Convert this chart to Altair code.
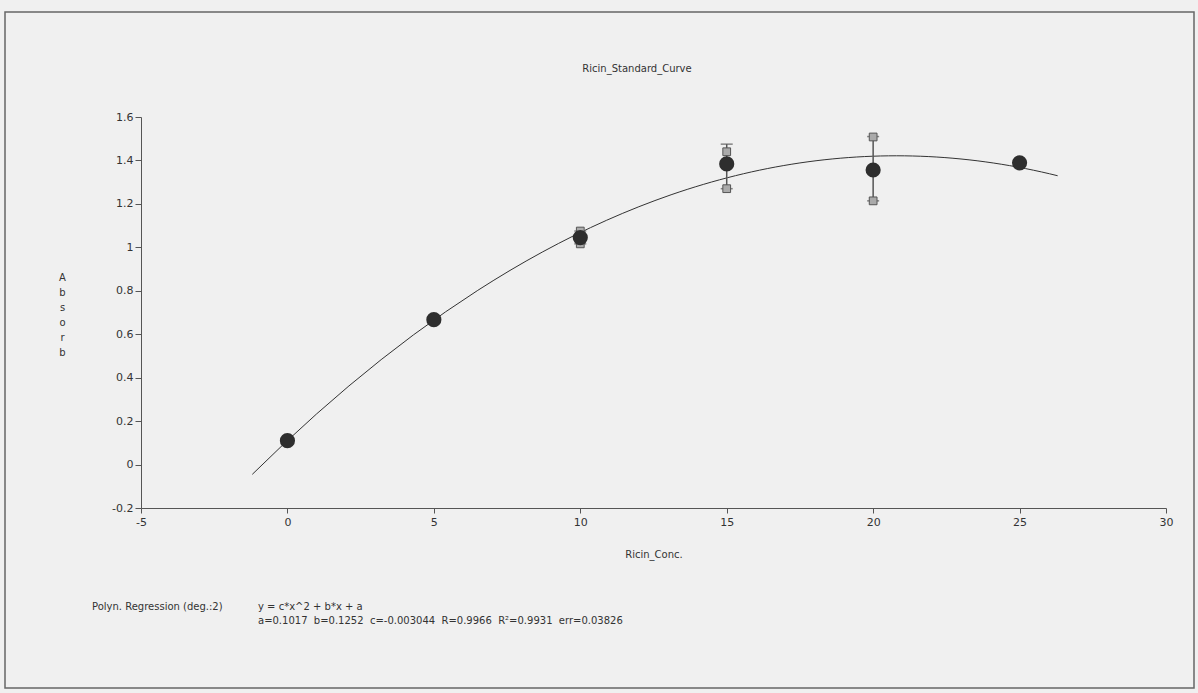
import altair as alt
import pandas as pd

conc = [0, 5, 10, 15, 20, 25]
absorb = [0.11, 0.667, 1.045, 1.384, 1.356, 1.389]

err_conc = [10, 15, 20]
err_lo = [1.016, 1.27, 1.214]
err_hi = [1.075, 1.475, 1.51]

rep_conc = [10, 10, 15, 15, 20, 20]
rep_val = [1.016, 1.075, 1.27, 1.44, 1.214, 1.508]

fit_extent = [-1.2, 26.3]

chart_title = "Ricin_Standard_Curve"
eq_line1_label = "Polyn. Regression (deg.:2)"
eq_line1 = "y = c*x^2 + b*x + a"
sp = "\u00a0\u00a0"
eq_line2 = sp.join(["a=0.1017", "b=0.1252", "c=-0.003044", "R=0.9966", "R\u00b2=0.9931", "err=0.03826"])

pts = pd.DataFrame({"conc": conc, "absorb": absorb})
errs = pd.DataFrame({"conc": err_conc, "lo": err_lo, "hi": err_hi})
reps = pd.DataFrame({"conc": rep_conc, "val": rep_val})

FONT = "DejaVu Sans"
xs = alt.Scale(domain=[-5, 30], nice=False, zero=False)
ys = alt.Scale(domain=[-0.2, 1.6], nice=False, zero=False)

x_axis = alt.Axis(values=[-5, 0, 5, 10, 15, 20, 25, 30], grid=False, title="Ricin_Conc.",
                  labelExpr="toString(datum.value)",
                  tickSize=5, labelPadding=3, titlePadding=22, labelFontSize=11,
                  titleFontSize=10, titleFontWeight="normal", titleFont=FONT, labelFont=FONT,
                  domainColor="#555", tickColor="#555", labelColor="#333", titleColor="#333",
                  labelFlush=False)
y_axis = alt.Axis(values=[-0.2, 0, 0.2, 0.4, 0.6, 0.8, 1, 1.2, 1.4, 1.6], grid=False,
                  labelExpr="toString(datum.value)",
                  title=["A", "b", "s", "o", "r", "b"], titleAngle=0, titleX=-79, titleY=163,
                  titleAlign="center", titleBaseline="alphabetic", titleLineHeight=15,
                  tickSize=6, labelPadding=2, labelFontSize=11, titleFontSize=10,
                  titleFontWeight="normal", titleFont=FONT, labelFont=FONT,
                  domainColor="#555", tickColor="#555", labelColor="#333", titleColor="#333",
                  labelFlush=False)

base = alt.Chart(pts)

curve = base.transform_regression("conc", "absorb", method="poly", order=2,
                                  extent=fit_extent).mark_line(
    color="#333", strokeWidth=1, clip=True
).encode(x=alt.X("conc:Q", scale=xs, axis=x_axis), y=alt.Y("absorb:Q", scale=ys, axis=y_axis))

bars = alt.Chart(errs).mark_rule(color="#555", strokeWidth=1.5).encode(
    x=alt.X("conc:Q", scale=xs), y=alt.Y("lo:Q", scale=ys), y2="hi:Q")
caps_hi = alt.Chart(errs).mark_tick(color="#555", size=12, thickness=1.5, orient="horizontal").encode(
    x=alt.X("conc:Q", scale=xs), y=alt.Y("hi:Q", scale=ys))
caps_lo = alt.Chart(errs).mark_tick(color="#555", size=12, thickness=1.5, orient="horizontal").encode(
    x=alt.X("conc:Q", scale=xs), y=alt.Y("lo:Q", scale=ys))
squares = alt.Chart(reps).mark_square(size=60, fill="#aaa", stroke="#555", strokeWidth=1,
                                      opacity=1).encode(
    x=alt.X("conc:Q", scale=xs), y=alt.Y("val:Q", scale=ys))

dots = base.mark_circle(size=230, color="#2e2e2e", opacity=1).encode(
    x=alt.X("conc:Q", scale=xs), y=alt.Y("absorb:Q", scale=ys))

txt_df = pd.DataFrame({"t": [eq_line1_label, eq_line1, eq_line2],
                       "px": [-49, 117, 117], "py": [490, 490, 504]})
notes = alt.Chart(txt_df).mark_text(align="left", baseline="middle", font=FONT, fontSize=10,
                                     color="#333").encode(
    text="t:N", x=alt.X("px:Q", scale=None), y=alt.Y("py:Q", scale=None))

title_df = pd.DataFrame({"t": [chart_title], "px": [496], "py": [-48]})
title_mark = alt.Chart(title_df).mark_text(align="center", baseline="middle", font=FONT,
                                           fontSize=10, color="#333").encode(
    text="t:N", x=alt.X("px:Q", scale=None), y=alt.Y("py:Q", scale=None))

frame = alt.Chart(pd.DataFrame({"a": [0]})).mark_rect(
    fill=None, stroke="#666", strokeWidth=1.5
).encode(x=alt.value(-136), x2=alt.value(1053), y=alt.value(-105), y2=alt.value(571))

chart = alt.layer(frame, curve, bars, caps_hi, caps_lo, squares, dots, notes, title_mark).properties(
    width=1025, height=391,
    autosize=alt.AutoSizeParams(type="none"),
    padding={"left": 141, "top": 117, "right": 32, "bottom": 185},
    background="#f0f0f0",
).configure_view(stroke=None)

chart.save("out.html", embed_options={"renderer": "svg", "actions": False})
